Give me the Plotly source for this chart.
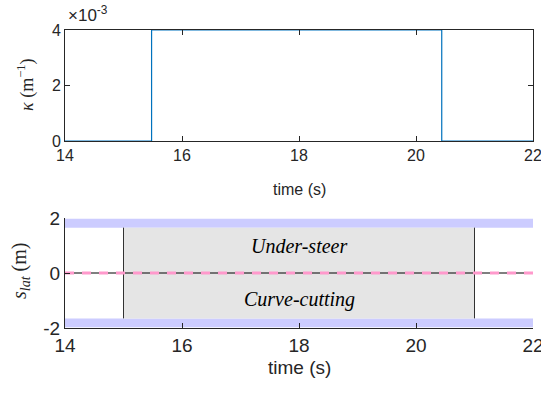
import plotly.graph_objects as go

# ---- data ----
time_k = [14, 15.48, 20.44, 22]
kappa = [0, 0.004, 0, 0]
ytick_top_vals = [0, 0.002, 0.004]
ytick_top_text = ["0", "2", "4"]
xticks = [14, 16, 18, 20, 22]
time_ref = [14, 22]
s_ref = [0, 0]
region_t = [15, 21]
lane_inner = 1.65
lane_outer = 1.97
ytick_bot = [-2, 0, 2]
ytick_bot_text = ["-2", "0", "2"]

AX = "#262626"
BLUE = "#0072BD"
TICKF = "Liberation Sans, Arial, sans-serif"
SERIF = "Liberation Serif, DejaVu Serif, serif"

fig = go.Figure()

# top panel
fig.add_trace(go.Scatter(x=time_k, y=kappa, mode="lines", line=dict(color=BLUE, width=1.2, shape="hv"),
                         xaxis="x", yaxis="y", showlegend=False))

# bottom panel: lane bands
for sgn in (1, -1):
    fig.add_trace(go.Scatter(x=[time_ref[0], time_ref[1], time_ref[1], time_ref[0]],
                             y=[sgn * lane_inner, sgn * lane_inner, sgn * lane_outer, sgn * lane_outer],
                             fill="toself", fillcolor="#CCCCFF", mode="none",
                             xaxis="x2", yaxis="y2", showlegend=False))
# gray region
fig.add_trace(go.Scatter(x=[region_t[0], region_t[1], region_t[1], region_t[0], region_t[0]],
                         y=[-lane_inner, -lane_inner, lane_inner, lane_inner, -lane_inner],
                         fill="toself", fillcolor="#E5E5E5", mode="none",
                         xaxis="x2", yaxis="y2", showlegend=False))
for t in region_t:
    fig.add_trace(go.Scatter(x=[t, t], y=[-lane_inner, lane_inner], mode="lines",
                             line=dict(color="black", width=0.8), xaxis="x2", yaxis="y2", showlegend=False))
# reference line
fig.add_trace(go.Scatter(x=time_ref, y=s_ref, mode="lines", line=dict(color="black", width=1.2),
                         xaxis="x2", yaxis="y2", showlegend=False))
fig.add_trace(go.Scatter(x=time_ref, y=s_ref, mode="lines", line=dict(color="#FF99CC", width=3, dash="9px,8px"),
                         xaxis="x2", yaxis="y2", showlegend=False))

common_x = dict(range=[14, 22], tickvals=xticks, ticks="inside", ticklen=5, tickcolor=AX,
                showline=True, linecolor=AX, linewidth=1, showgrid=False, zeroline=False,
                ticklabeloverflow="allow", automargin=False)

fig.update_layout(
    width=541, height=398,
    margin=dict(l=65, r=8, t=30, b=70, autoexpand=False),
    plot_bgcolor="white", paper_bgcolor="white",
    xaxis=dict(**common_x, domain=[0, 1], anchor="y", mirror="ticks",
               tickfont=dict(family=TICKF, color=AX, size=16)),
    yaxis=dict(domain=[0.6275, 1], anchor="x", range=[0, 0.004], tickvals=ytick_top_vals,
               ticktext=ytick_top_text, ticks="inside", ticklen=5, tickcolor=AX, showline=True,
               linecolor=AX, linewidth=1, mirror="ticks", showgrid=False, zeroline=False,
               automargin=False, tickfont=dict(family=TICKF, color=AX, size=16)),
    xaxis2=dict(**common_x, domain=[0, 1], anchor="y2",
                tickfont=dict(family=TICKF, color=AX, size=19)),
    yaxis2=dict(domain=[0, 0.369], anchor="x2", range=[-2, 2], tickvals=ytick_bot, ticktext=ytick_bot_text,
                ticks="inside", ticklen=5, tickcolor=AX, showline=True, linecolor=AX, linewidth=1,
                showgrid=False, zeroline=False, automargin=False,
                tickfont=dict(family=TICKF, color=AX, size=19)),
)

# pixel-positioned annotations (x, y in px from top-left), converted below
W, H = 541, 398
L, R, T, B = 65, 8, 30, 70
pw, ph = W - L - R, H - T - B
ann = [
    dict(text="×10<sup>-3</sup>", px=66, py=27, xanchor="left", yanchor="bottom",
         font=dict(family=TICKF, size=17, color=AX)),
    dict(text="time (s)", px=299, py=189, font=dict(family=TICKF, size=16, color=AX)),
    dict(text="time (s)", px=299, py=380, font=dict(family=TICKF, size=19, color=AX)),
    dict(text="<i>κ</i> (m<sup>−1</sup>)", px=26, py=85, textangle=-90, xanchor="center", yanchor="middle",
         font=dict(family=SERIF, size=18, color=AX)),
    dict(text="<i>s<sub>lat</sub></i> (m)", px=20, py=271, textangle=-90, xanchor="center", yanchor="middle",
         font=dict(family=SERIF, size=20, color=AX)),
]
out = []
for a in ann:
    px, py = a.pop("px"), a.pop("py")
    a.update(xref="paper", yref="paper", x=(px - L) / pw, y=(H - B - py) / ph, showarrow=False)
    out.append(a)
out += [
    dict(text="<i>Under-steer</i>", x=18, y=1.0, xref="x2", yref="y2", showarrow=False,
         font=dict(family=SERIF, size=20, color="black")),
    dict(text="<i>Curve-cutting</i>", x=18, y=-0.95, xref="x2", yref="y2", showarrow=False,
         font=dict(family=SERIF, size=20, color="black")),
]
fig.update_layout(annotations=out)

fig.write_html("out.html")
